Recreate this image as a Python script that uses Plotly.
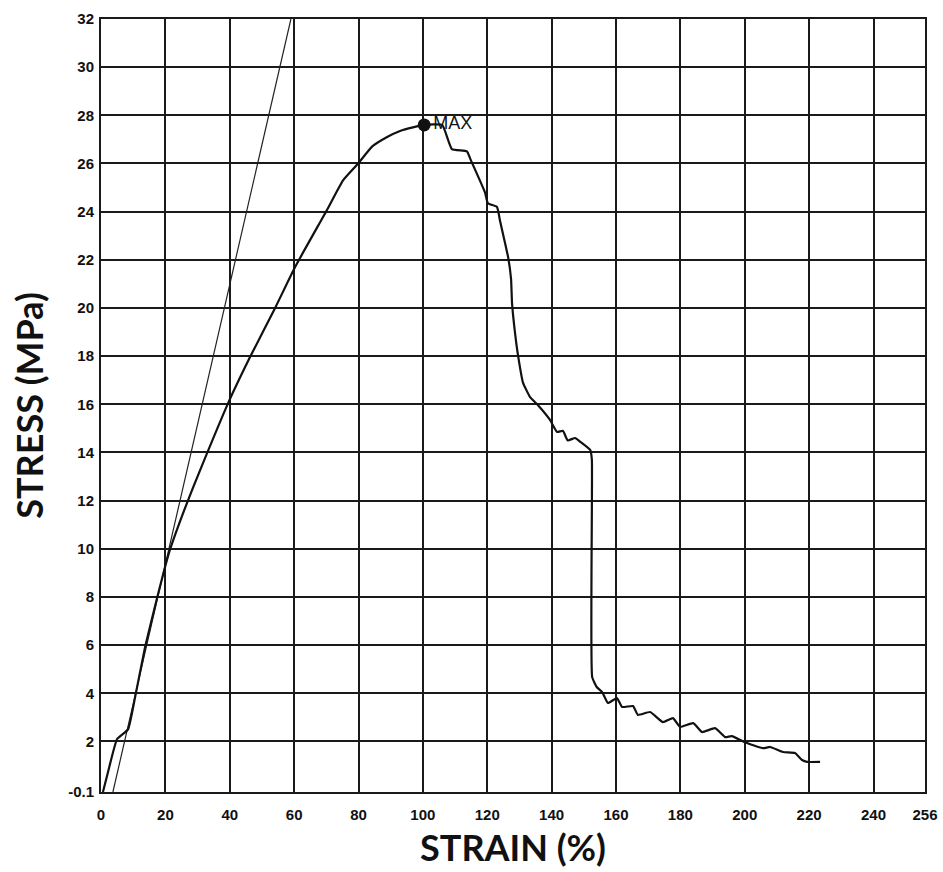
import plotly.graph_objects as go

# Main stress-strain curve (strain %, stress MPa)
strain = [0.6, 2.5, 5.0, 8.4, 10.6, 13.7, 17.4, 19.9, 21.4, 26.7, 30.8, 39.5, 46.3, 54.1, 60.3,
          70.2, 75.2, 79.9, 84.2, 88.9, 92.9, 96.9, 100.4,
          106.0, 109.0, 113.7, 114.7, 119.3, 120.2, 123.0, 124.0, 126.5, 127.4, 127.7, 128.6,
          129.6, 131.1, 133.3, 135.5, 139.5, 141.7, 143.5, 145.0, 147.3, 148.8, 152.0, 152.5,
          152.6, 154.0, 155.7, 157.5, 160.3, 161.9, 165.3, 166.8, 170.6, 174.6, 177.7, 179.9,
          184.0, 186.7, 190.8, 193.9, 196.0, 200.0, 205.7, 207.9, 211.9, 215.6, 217.8, 219.4, 223.4]
stress = [-0.1, 0.9, 2.1, 2.5, 3.84, 5.92, 7.95, 9.24, 9.95, 11.9, 13.27, 16.05, 17.96, 20.0, 21.7,
          24.07, 25.3, 26.0, 26.7, 27.1, 27.35, 27.5, 27.6,
          27.6, 26.6, 26.5, 26.2, 24.8, 24.35, 24.2, 23.6, 22.1, 21.2, 20.2, 19.0,
          18.0, 16.9, 16.3, 16.0, 15.35, 14.85, 14.9, 14.5, 14.6, 14.45, 14.1, 13.7,
          4.67, 4.26, 4.05, 3.6, 3.8, 3.43, 3.47, 3.1, 3.22, 2.8, 2.97, 2.6,
          2.76, 2.39, 2.55, 2.18, 2.22, 1.97, 1.72, 1.77, 1.56, 1.52, 1.23, 1.15, 1.15]

# Straight reference (modulus) line
mod_strain = [3.7, 59.0]
mod_stress = [-0.1, 32.0]

# Maximum point
max_strain = [100.4]
max_stress = [27.6]

x_ticks = [0, 20, 40, 60, 80, 100, 120, 140, 160, 180, 200, 220, 240, 256]
y_ticks = [-0.1, 2, 4, 6, 8, 10, 12, 14, 16, 18, 20, 22, 24, 26, 28, 30, 32]
y_tick_text = ["-0.1"] + [str(v) for v in y_ticks[1:]]

tick_font = dict(family="Liberation Sans, Arial", size=15, color="#111111", weight="bold")
title_font = dict(family="Lato, Open Sans", size=36, color="#111111", weight="bold")

fig = go.Figure()
fig.add_trace(go.Scatter(x=mod_strain, y=mod_stress, mode="lines",
                         line=dict(color="#222222", width=1.2), showlegend=False))
fig.add_trace(go.Scatter(x=strain, y=stress, mode="lines",
                         line=dict(color="#111111", width=2.2, shape="spline", smoothing=0.4),
                         showlegend=False))
fig.add_trace(go.Scatter(x=max_strain, y=max_stress, mode="markers+text",
                         marker=dict(color="#111111", size=13),
                         text=["MAX"], textposition="middle right",
                         textfont=dict(family="Liberation Sans, Arial", size=18, color="#111111"),
                         showlegend=False, cliponaxis=False))

fig.update_layout(
    width=943, height=872,
    margin=dict(l=101, r=18, t=19, b=80, autoexpand=False),
    paper_bgcolor="white", plot_bgcolor="white",
    xaxis=dict(range=[0, 256], tickvals=x_ticks, ticktext=[str(v) for v in x_ticks],
               showgrid=True, gridcolor="#1a1a1a", gridwidth=1.5,
               showline=True, linecolor="#1a1a1a", linewidth=2, mirror=True,
               zeroline=False, ticks="", automargin=False, ticklabelstandoff=8,
               tickfont=tick_font,
               title=dict(text="STRAIN (%)", standoff=14, font=title_font)),
    yaxis=dict(range=[-0.1, 32], tickvals=y_ticks, ticktext=y_tick_text,
               showgrid=True, gridcolor="#1a1a1a", gridwidth=1.5,
               showline=True, linecolor="#1a1a1a", linewidth=2, mirror=True,
               zeroline=False, ticks="", automargin=False, ticklabelstandoff=2,
               tickfont=tick_font,
               title=dict(text="STRESS (MPa)", standoff=14, font=title_font)),
)

fig.write_html("out.html", config={"displayModeBar": False},
               post_script="document.body.style.margin='0px';")
